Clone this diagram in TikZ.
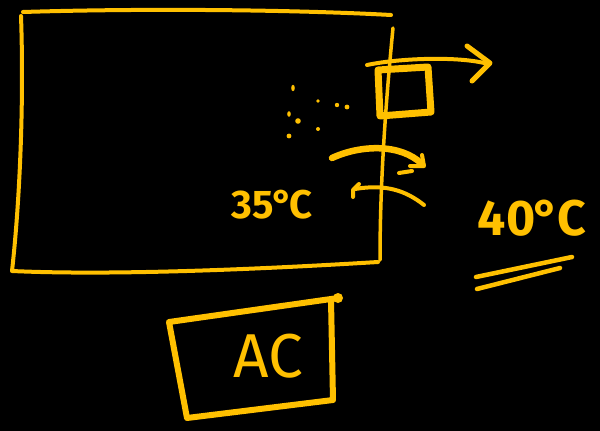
\documentclass[tikz,border=0pt]{standalone}
\usepackage{fontspec}
\setmainfont{Fira Sans}
\usetikzlibrary{arrows.meta}
\definecolor{pen}{HTML}{FFC000}
\begin{document}
\begin{tikzpicture}[x=1pt,y=-1pt,
  ink/.style={draw=pen,line width=4pt,line cap=round,line join=round},
  thick ink/.style={draw=pen,line width=7pt,line cap=round,line join=round},
  label/.style={text=pen,inner sep=0pt,font=\bfseries\fontsize{40}{40}\selectfont},
  dotmark/.style={fill=pen,draw=none}]
\fill[black] (0,0) rectangle (600,431);
\useasboundingbox (0,0) rectangle (600,431);
% room
\path[ink] (23,12) .. controls (150,8) and (300,10) .. (391,15);
\path[ink] (21,16) .. controls (24,100) and (20,200) .. (12,271)
  .. controls (120,276) and (280,268) .. (378,262);
\path[ink,line width=3.5pt] (393,28) .. controls (386,100) and (380,180) .. (380,260);
% window
\path[thick ink] (378,70) -- (428,67) -- (431,112) -- (380,116) -- cycle;
% top arrow
\coordinate (t0) at (367,65);
\coordinate (t1) at (488,64);
\path[ink] (t0) .. controls (400,58) and (460,56) .. (t1);
\path[ink,line width=5pt] (467,46) -- (490,63) -- (472,81);
% middle arrow
\coordinate (m0) at (332,158);
\coordinate (m1) at (422,164);
\path[ink,line width=6.5pt] (m0) .. controls (360,145) and (400,143) .. (m1);
\path[ink] (422,155) -- (424,166) -- (410,166);
\path[ink] (399,173) -- (412,171);
% lower arrow
\coordinate (l0) at (424,205);
\coordinate (l1) at (355,189);
\path[ink] (l0) .. controls (405,190) and (385,184) .. (l1);
\path[ink] (359,184) -- (353,190) -- (353,197);
% dots
\fill[dotmark] (293,88) ellipse (1.8pt and 3.2pt);
\fill[dotmark] (318,101) circle (1.8pt);
\fill[dotmark] (337,105) circle (2.2pt);
\fill[dotmark] (347,107) circle (2.4pt);
\fill[dotmark] (289,114) ellipse (1.8pt and 2.8pt);
\fill[dotmark] (298,121) circle (2.8pt);
\fill[dotmark] (318,129) circle (2pt);
\fill[dotmark] (289,136) circle (2.4pt);
% texts
\node[label] (inside) at (272,205) {35\kern-2pt°\kern-4pt C};
\node[label,font=\bfseries\fontsize{50}{50}\selectfont] (outside) at (532,218) {40\kern-2pt°\kern-2pt C};
\path[ink,line width=4.5pt] (476,277) -- (572,257);
\path[ink,line width=4.5pt] (477,289) -- (560,268);
% AC unit
\path[ink,line width=6pt] (338,298) -- (169,322) -- (187,418) -- (333,400) -- (331,300);
\fill[pen] (338,298) circle (5pt);
\node[label,font=\fontsize{62}{62}\selectfont] (ac) at (268,356) {AC};
\end{tikzpicture}
\end{document}
